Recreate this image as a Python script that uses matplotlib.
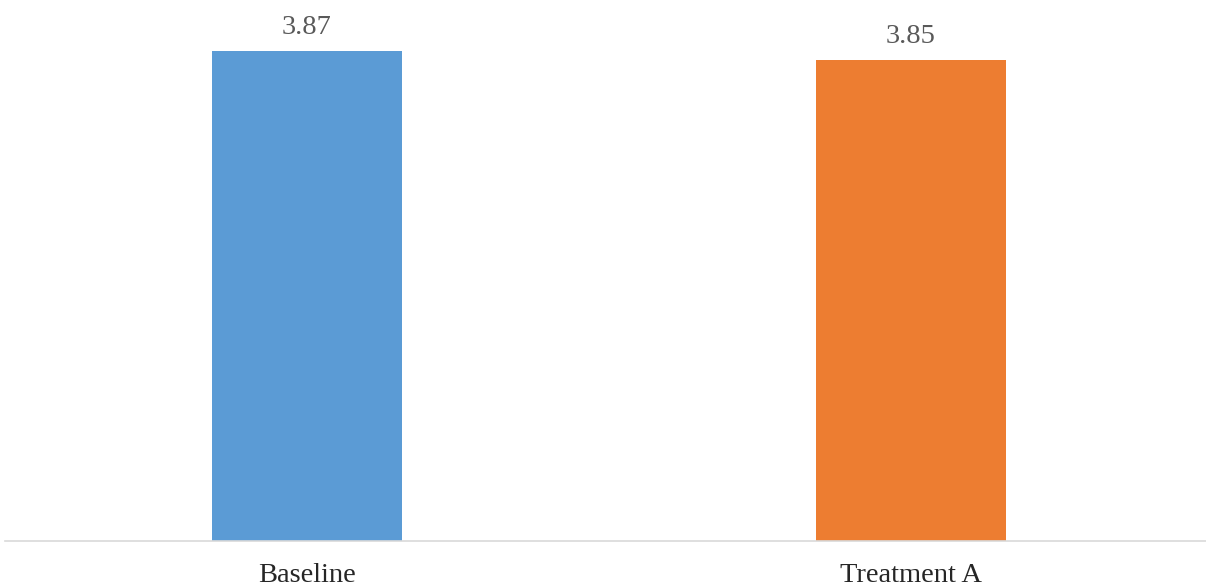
import matplotlib
matplotlib.use("Agg")
import matplotlib.pyplot as plt

categories = ["Baseline", "Treatment A"]
values = [3.87, 3.85]
bar_colors = ["#5B9BD5", "#ED7D31"]

W, H = 1206, 587
fig = plt.figure(figsize=(W / 100, H / 100), dpi=100)
# axes placed in pixel units: left, bottom, width, height
ax = fig.add_axes([5 / W, 46.5 / H, 1208 / W, 503.5 / H])

x = list(range(len(categories)))
bars = ax.bar(x, values, width=0.315, color=bar_colors, zorder=2)

ax.set_xlim(-0.5, len(categories) - 0.5)
ax.set_ylim(2.8, 3.9)

for rect, v in zip(bars, values):
    ax.annotate(f"{v:.2f}", (rect.get_x() + rect.get_width() / 2, v),
                xytext=(0, 8), textcoords="offset points",
                ha="center", va="bottom", fontsize=20.5,
                family="Liberation Serif", color="#595959",
                annotation_clip=False)

ax.set_xticks(x)
ax.set_xticklabels(categories, family="Liberation Serif", fontsize=20.5,
                   color="#262626")
ax.tick_params(axis="x", length=0, pad=16)
ax.set_yticks([])

for side in ("top", "left", "right"):
    ax.spines[side].set_visible(False)
ax.spines["bottom"].set_color("#D9D9D9")
ax.spines["bottom"].set_linewidth(1.2)
ax.spines["bottom"].set_zorder(3)

fig.savefig("out.png", dpi=100)
